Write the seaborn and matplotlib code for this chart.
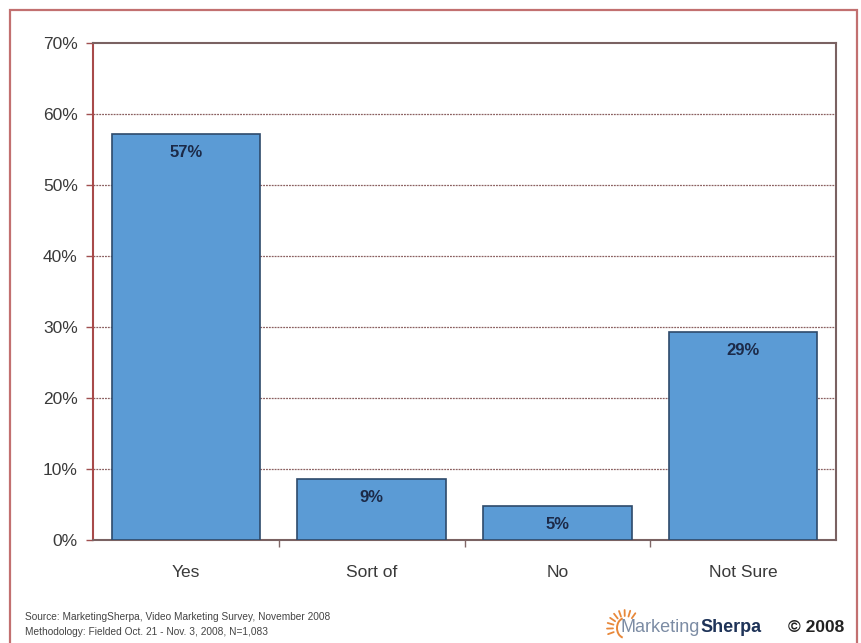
import matplotlib
matplotlib.use("Agg")
import matplotlib.pyplot as plt
import matplotlib.patches as mpatches
import seaborn as sns
import pandas as pd
import numpy as np

categories = ["Yes", "Sort of", "No", "Not Sure"]
values = [57.2, 8.6, 4.8, 29.3]
value_labels = ["57%", "9%", "5%", "29%"]
y_ticks = [0, 10, 20, 30, 40, 50, 60, 70]
y_tick_labels = ["0%", "10%", "20%", "30%", "40%", "50%", "60%", "70%"]
source_lines = ["Source: MarketingSherpa, Video Marketing Survey, November 2008",
                "Methodology: Fielded Oct. 21 - Nov. 3, 2008, N=1,083"]

sns.set_theme(style="white")
plt.rcParams["font.family"] = ["Liberation Sans", "DejaVu Sans"]

df = pd.DataFrame({"cat": categories, "val": values})

fig = plt.figure(figsize=(8.61, 6.43), dpi=100)
ax = fig.add_axes([93/861, 1-540/643, (836-93)/861, (540-43)/643])

sns.barplot(data=df, x="cat", y="val", ax=ax, color="#5B9BD5", saturation=1,
            width=0.8, edgecolor="#2E4A6B", linewidth=1.2, zorder=3)

ax.set_ylim(0, 70)
ax.set_xlim(-0.5, 3.5)
ax.set_yticks(y_ticks)
ax.set_yticklabels(y_tick_labels, fontsize=12.5, color="#3a3a3a")
ax.set_xticks(range(len(categories)))
ax.set_xticklabels(categories, fontsize=12.5, color="#3a3a3a")
ax.tick_params(axis="x", length=0, pad=18)
ax.tick_params(axis="y", length=5, width=1, color="#A05050", direction="out", left=True, pad=6)
ax.set_xticks([0.5, 1.5, 2.5], minor=True)
ax.tick_params(axis="x", which="minor", length=5, width=1, color="#806868", bottom=True, direction="out")
ax.set_xlabel("")
ax.set_ylabel("")

for y in y_ticks[1:-1]:
    ax.axhline(y, color="#8B6060", linestyle=(0, (1.5, 0.8)), linewidth=0.9, zorder=1)

for side in ["top", "right", "bottom"]:
    ax.spines[side].set_color("#7A6262")
    ax.spines[side].set_linewidth(1.5)
ax.spines["left"].set_color("#A84A4A")
ax.spines["left"].set_linewidth(1.5)

for i, (v, lab) in enumerate(zip(values, value_labels)):
    ax.text(i, v - 1.6, lab, ha="center", va="top", fontsize=12, fontweight="bold",
            color="#1C2A48", zorder=4)

# outer border
border = mpatches.Rectangle((10/861, -0.01), (857-10)/861, 1-10/643+0.01,
                            transform=fig.transFigure, fill=False,
                            edgecolor="#C27070", linewidth=1.6)
fig.patches.append(border)

fig.text(25/861, 1-617/643, source_lines[0], fontsize=7.3, color="#444444", va="center")
fig.text(25/861, 1-632/643, source_lines[1], fontsize=7.3, color="#444444", va="center")

# logo
ly = 1 - 627/643
t1 = fig.text(620/861, ly, "Marketing", fontsize=13, color="#7C8CA4", va="center")
fig.canvas.draw()
bb = t1.get_window_extent()
fig.text(bb.x1/861 + 1/861, ly, "Sherpa", fontsize=13, color="#1E3358", va="center", fontweight="bold")
fig.text(788/861, ly, "© 2008", fontsize=12.5, color="#222222", va="center", fontweight="bold")
# sun: arc and rays
cx, cy = 625, 628
arc = mpatches.Arc((cx/861, 1-cy/643), 2*8/861, 2*10/643, theta1=100, theta2=260,
                   transform=fig.transFigure, color="#E8883A", linewidth=1.4)
fig.add_artist(arc)
for ang in np.linspace(55, 200, 9):
    a = np.deg2rad(ang)
    r1, r2 = 12, 18
    xs = [cx + r1*np.cos(a), cx + r2*np.cos(a)]
    ys = [cy - r1*np.sin(a), cy - r2*np.sin(a)]
    fig.add_artist(plt.Line2D([x/861 for x in xs], [1-y/643 for y in ys],
                              transform=fig.transFigure, color="#E8883A", linewidth=1.3))

fig.savefig("out.png", dpi=100)
